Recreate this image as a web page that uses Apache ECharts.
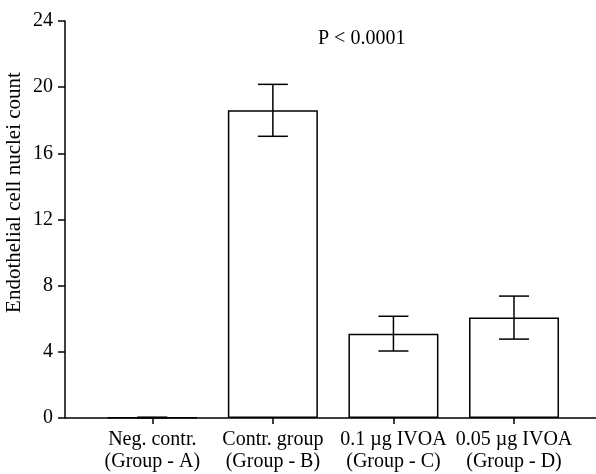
<!DOCTYPE html>
<html>
<head>
<meta charset="utf-8">
<script src="https://cdn.jsdelivr.net/npm/echarts@6/dist/echarts.min.js"></script>
<style>
  html, body { margin: 0; padding: 0; background: #fff; }
  #chart { width: 596px; height: 474px; }
</style>
</head>
<body>
<div id="chart"></div>
<script>
// data
var groupNames = ['Neg. contr.', 'Contr. group', '0.1 \u00b5g IVOA', '0.05 \u00b5g IVOA'];
var groupTags = ['(Group - A)', '(Group - B)', '(Group - C)', '(Group - D)'];
var means = [0.03, 18.6, 5.1, 6.07];
var errs = [0.02, 1.57, 1.05, 1.3];
var yTicks = [0, 4, 8, 12, 16, 20, 24];

var FONT = '"Liberation Serif", "DejaVu Serif", serif';
var positions = groupNames.map(function (n, i) { return i; });

var chart = echarts.init(document.getElementById('chart'));

var option = {
    animation: false,
    backgroundColor: '#fff',
    textStyle: { fontFamily: FONT, color: '#000' },
    grid: { left: 65, right: 0, top: 21, bottom: 56, containLabel: false, outerBoundsMode: 'none' },
    xAxis: {
        type: 'value',
        position: 'bottom',
        min: -0.724,
        max: 3.68,
        splitLine: { show: false },
        axisLine: { show: true, onZero: false, lineStyle: { color: '#000', width: 1.5 } },
        axisTick: { show: true, length: 6, customValues: positions, lineStyle: { color: '#000', width: 1.5 } },
        axisLabel: {
            customValues: positions,
            margin: 11,
            fontFamily: FONT,
            fontSize: 20,
            lineHeight: 22,
            color: '#000',
            formatter: function (v) {
                var i = Math.round(v);
                return groupNames[i] + '\n' + groupTags[i];
            }
        }
    },
    yAxis: {
        type: 'value',
        position: 'left',
        min: 0,
        max: yTicks[yTicks.length - 1],
        interval: 4,
        name: 'Endothelial cell nuclei count',
        nameLocation: 'middle',
        nameGap: 40,
        nameMoveOverlap: false,
        nameTextStyle: { fontFamily: FONT, fontSize: 21, color: '#000', padding: [0, 0, 0, 54] },
        splitLine: { show: false },
        axisLine: { show: true, onZero: false, lineStyle: { color: '#000', width: 1.5 } },
        axisTick: { show: true, length: 7, lineStyle: { color: '#000', width: 1.5 } },
        axisLabel: { fontFamily: FONT, fontSize: 20, color: '#000', margin: 12 }
    },
    graphic: [{
        type: 'text',
        left: 318,
        top: 29,
        style: { text: 'P < 0.0001', fontFamily: FONT, fontSize: 20, fill: '#000' }
    }],
    series: [
        {
            type: 'bar',
            barWidth: 90,
            data: means.map(function (m, i) { return [positions[i], m]; }),
            itemStyle: { color: '#fff', borderColor: '#000', borderWidth: 1.5 }
        },
        {
            type: 'custom',
            data: means.map(function (m, i) { return [positions[i], m - errs[i], m + errs[i]]; }),
            renderItem: function (params, api) {
                var lo = api.coord([api.value(0), api.value(1)]);
                var hi = api.coord([api.value(0), api.value(2)]);
                var hw = 15;
                var st = { stroke: '#000', lineWidth: 1.5 };
                return {
                    type: 'group',
                    children: [
                        { type: 'line', shape: { x1: hi[0], y1: hi[1], x2: lo[0], y2: lo[1] }, style: st },
                        { type: 'line', shape: { x1: hi[0] - hw, y1: hi[1], x2: hi[0] + hw, y2: hi[1] }, style: st },
                        { type: 'line', shape: { x1: lo[0] - hw, y1: lo[1], x2: lo[0] + hw, y2: lo[1] }, style: st }
                    ]
                };
            },
            z: 5
        }
    ]
};

chart.setOption(option);
</script>
</body>
</html>
